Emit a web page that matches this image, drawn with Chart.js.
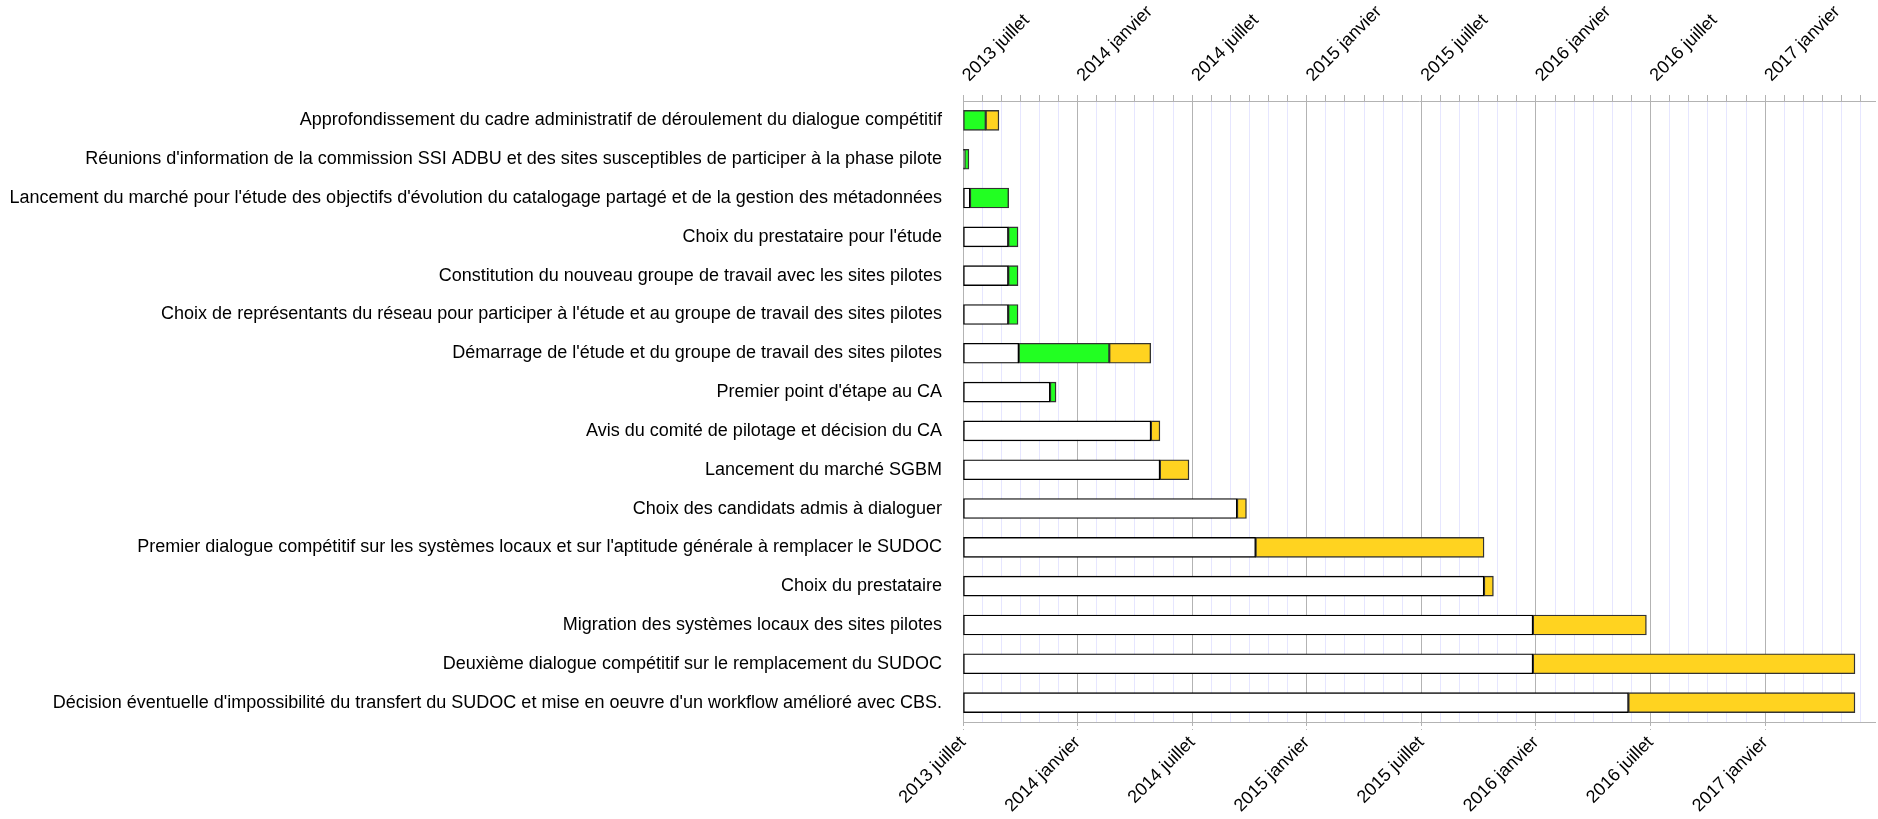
<!DOCTYPE html>
<html lang="fr">
<head>
<meta charset="utf-8">
<title>Planning SGBM</title>
<script src="https://cdn.jsdelivr.net/npm/chart.js@4.4.1/dist/chart.umd.min.js"></script>
<style>
  html, body { margin: 0; padding: 0; background: #fff; }
  #wrap { width: 1878px; height: 819px; }
</style>
</head>
<body>
<div id="wrap"><canvas id="gantt"></canvas></div>
<script>
// ─── Data (months counted from 2013 juillet) ──────────────────
const tasks = [
  "Approfondissement du cadre administratif de déroulement du dialogue compétitif",
  "Réunions d'information de la commission SSI ADBU et des sites susceptibles de participer à la phase pilote",
  "Lancement du marché pour l'étude des objectifs d'évolution du catalogage partagé et de la gestion des métadonnées",
  "Choix du prestataire pour l'étude",
  "Constitution du nouveau groupe de travail avec les sites pilotes",
  "Choix de représentants du réseau pour participer à l'étude et au groupe de travail des sites pilotes",
  "Démarrage de l'étude et du groupe de travail des sites pilotes",
  "Premier point d'étape au CA",
  "Avis du comité de pilotage et décision du CA",
  "Lancement du marché SGBM",
  "Choix des candidats admis à dialoguer",
  "Premier dialogue compétitif sur les systèmes locaux et sur l'aptitude générale à remplacer le SUDOC",
  "Choix du prestataire",
  "Migration des systèmes locaux des sites pilotes",
  "Deuxième dialogue compétitif sur le remplacement du SUDOC",
  "Décision éventuelle d'impossibilité du transfert du SUDOC et mise en oeuvre d'un workflow amélioré avec CBS."
];

// white part: time before the task starts
const waitMonths  = [null, 0.08, 0.37, 2.37, 2.37, 2.37, 2.92, 4.56, 9.84, 10.31, 14.35, 15.32, 27.28, 29.84, 29.84, 34.84];
// green part: done
const doneMonths  = [1.19, 0.23, 2.02, 0.51, 0.51, 0.51, 4.74, 0.31, null, null, null, null, null, null, null, null];
// yellow part: still to do
const todoMonths  = [0.69, null, null, null, null, null, 2.17, null, 0.47, 1.52, 0.49, 11.96, 0.49, 5.94, 16.86, 11.86];

// one label every 6 months
const tickLabels = ['2013 juillet', '2014 janvier', '2014 juillet', '2015 janvier',
                    '2015 juillet', '2016 janvier', '2016 juillet', '2017 janvier'];
const axisMax = 47.78;

// ─── Chart.js defaults ────────────────────────────────────────
Chart.defaults.font.family = "'Liberation Sans', Arial, sans-serif";
Chart.defaults.font.size   = 18;
Chart.defaults.color       = '#000';

const MAJOR = '#b3b3b3';
const MINOR = '#e6e6ff';
const isMajor = v => Number.isInteger(v) && v % 6 === 0;
const monthLabel = v => isMajor(v) ? (tickLabels[v / 6] || '') : '';

const barStyle = { borderWidth: 1.4, borderSkipped: false, barThickness: 20 };

new Chart(document.getElementById('gantt').getContext('2d'), {
  type: 'bar',
  data: {
    labels: tasks,
    datasets: [
      { label: 'attente', data: waitMonths, backgroundColor: '#ffffff', borderColor: '#000', ...barStyle },
      { label: 'réalisé', data: doneMonths, backgroundColor: '#22ff22', borderColor: '#333', ...barStyle },
      { label: 'à faire', data: todoMonths, backgroundColor: '#ffd320', borderColor: '#333', ...barStyle },
    ],
  },
  options: {
    indexAxis: 'y',
    responsive: true,
    maintainAspectRatio: false,
    animation: false,
    layout: { padding: { top: 0, right: 2, left: 0, bottom: 0 } },
    plugins: { legend: { display: false }, tooltip: { enabled: false } },
    scales: {
      y: {
        stacked: true,
        grid:   { display: false },
        border: { display: false },
        ticks:  { padding: 13, autoSkip: false },
        afterFit: s => { s.width = 963; },
      },
      x: {
        stacked: true,
        type: 'linear',
        position: 'bottom',
        min: 0, max: axisMax, bounds: 'data',
        grid: {
          drawOnChartArea: false,
          tickLength: 8,
          tickColor: c => isMajor(c.tick.value) ? MAJOR : 'rgba(0,0,0,0)',
          tickBorderDash: [3, 3],
        },
        border: { color: MAJOR, dash: [3, 3] },
        ticks: {
          stepSize: 1, includeBounds: false, autoSkip: false,
          minRotation: 45, maxRotation: 45, padding: 2,
          callback: monthLabel,
        },
        afterFit: s => { s.height = 97; },
      },
      x2: {
        type: 'linear',
        position: 'top',
        min: 0, max: axisMax, bounds: 'data',
        grid: {
          color: c => isMajor(c.tick.value) ? MAJOR : MINOR,
          tickColor: MAJOR,
          tickLength: 6,
        },
        border: { color: MAJOR },
        ticks: {
          stepSize: 1, includeBounds: false, autoSkip: false,
          minRotation: 45, maxRotation: 45, padding: 9, labelOffset: 18,
          callback: monthLabel,
        },
        afterFit: s => { s.height = 101; },
      },
    },
  },
});
</script>
</body>
</html>
